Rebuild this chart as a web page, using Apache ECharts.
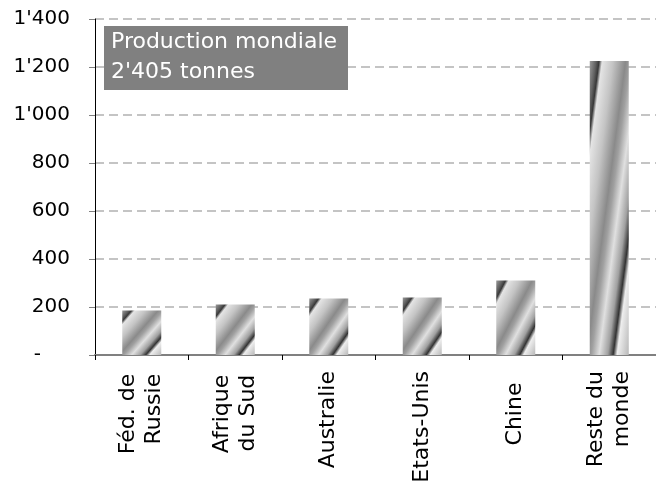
<!DOCTYPE html>
<html>
<head>
<meta charset="utf-8">
<script src="https://cdn.jsdelivr.net/npm/echarts@6/dist/echarts.min.js"></script>
<style>
html,body{margin:0;padding:0;background:#fff;}
#c{width:656px;height:481px;}
</style>
</head>
<body>
<div id="c"></div>
<script>
const categories = ['Féd. de\nRussie', 'Afrique\ndu Sud', 'Australie', 'Etats-Unis', 'Chine', 'Reste du\nmonde'];
const values = [185, 210, 235, 240, 310, 1225];
const yMin = 0, yMax = 1400, yStep = 200;
const boxTitle = 'Production mondiale';
const boxUnit = 'tonnes';

function fmt(v) {
  if (v === 0) return '{z|-}';
  if (v >= 1000) return Math.floor(v / 1000) + "'" + String(v % 1000).padStart(3, '0');
  return String(v);
}
function plain(v) {
  if (v >= 1000) return Math.floor(v / 1000) + "'" + String(v % 1000).padStart(3, '0');
  return String(v);
}
const total = values.reduce((a, b) => a + b, 0);

const FONT = 'DejaVu Sans';
const LABEL_SIZE = 22;
// measure category label lengths to center short labels
const mctx = document.createElement('canvas').getContext('2d');
mctx.font = LABEL_SIZE + 'px "' + FONT + '"';
function labelPad(txt) {
  const L = Math.max(...txt.split('\n').map(s => mctx.measureText(s).width));
  const centerOff = 59, startOff = 16;
  return Math.max(0, centerOff - L / 2 - startOff);
}
const pads = categories.map(labelPad);

const chart = echarts.init(document.getElementById('c'), null, {renderer: 'canvas'});

const option = {
  animation: false,
  backgroundColor: '#fff',
  grid: {left: 95, right: 0, top: 19, bottom: 126, containLabel: false, outerBoundsMode: 'none'},
  xAxis: {
    type: 'category',
    data: categories,
    axisLine: {show: true, lineStyle: {color: '#808080', width: 2}},
    axisTick: {show: true, length: 5, alignWithLabel: false, lineStyle: {color: '#000', width: 1}},
    axisLabel: {
      interval: 0,
      rotate: 90,
      margin: 16,
      align: 'right',
      verticalAlign: 'middle',
      color: '#000',
      fontFamily: FONT,
      fontSize: LABEL_SIZE,
      lineHeight: 26,
      formatter: function (val, idx) {
        return val.split('\n').map(s => '{p' + idx + '|' + s + '}').join('\n');
      },
      rich: Object.fromEntries(pads.map((p, i) => ['p' + i, {
        fontFamily: FONT, fontSize: LABEL_SIZE, color: '#000', lineHeight: 26,
        align: 'right',
        padding: [0, p, 0, 0]
      }]))
    },
    splitLine: {show: false}
  },
  yAxis: {
    type: 'value',
    min: yMin, max: yMax, interval: yStep,
    axisLine: {show: true, lineStyle: {color: '#000', width: 1}},
    axisTick: {show: true, length: 6, inside: false, lineStyle: {color: '#808080', width: 1}},
    axisLabel: {
      margin: 25,
      color: '#000',
      fontFamily: FONT,
      fontSize: 20,
      formatter: fmt,
      rich: {z: {fontFamily: FONT, fontSize: 20, color: '#000', padding: [0, 29, 0, 0]}}
    },
    splitLine: {show: true, lineStyle: {color: '#c4c4c4', width: 2, type: [9, 5]}}
  },
  graphic: [
    {type: 'rect', left: 104, top: 26, z: 100, shape: {width: 244, height: 64}, style: {fill: '#808080'}},
    {type: 'text', left: 111, top: 27, z: 101, style: {
      text: boxTitle + '\n' + plain(total) + ' ' + boxUnit,
      fill: '#fff', font: '22px "' + FONT + '"', lineHeight: 30
    }}
  ],
  series: [{
    type: 'bar',
    barWidth: 39,
    data: values,
    itemStyle: {color: '#a0a0a0'}
  }]
};
chart.setOption(option);

// striped texture stretched over each bar (like a fill picture)
const stops = [
  [0.00, '#9a9a9a'], [0.08, '#606060'], [0.12, '#383838'], [0.16, '#e4e4e4'],
  [0.30, '#c4c4c4'], [0.46, '#8a8a8a'], [0.52, '#a0a0a0'], [0.62, '#e0e0e0'],
  [0.73, '#a0a0a0'], [0.80, '#333333'], [0.85, '#eeeeee'], [1.00, '#b8b8b8']
];
function stripe(w, h) {
  const d = h * h + w * w;
  return new echarts.graphic.LinearGradient(0, 0, 2 * h * h / d, 2 * w * w / d,
    stops.map(s => ({offset: s[0], color: s[1]})));
}
const y0 = chart.convertToPixel({yAxisIndex: 0}, 0);
chart.setOption({
  series: [{
    data: values.map(v => {
      const h = Math.max(1, y0 - chart.convertToPixel({yAxisIndex: 0}, v));
      return {value: v, itemStyle: {color: stripe(39, h)}};
    })
  }]
});
</script>
</body>
</html>
